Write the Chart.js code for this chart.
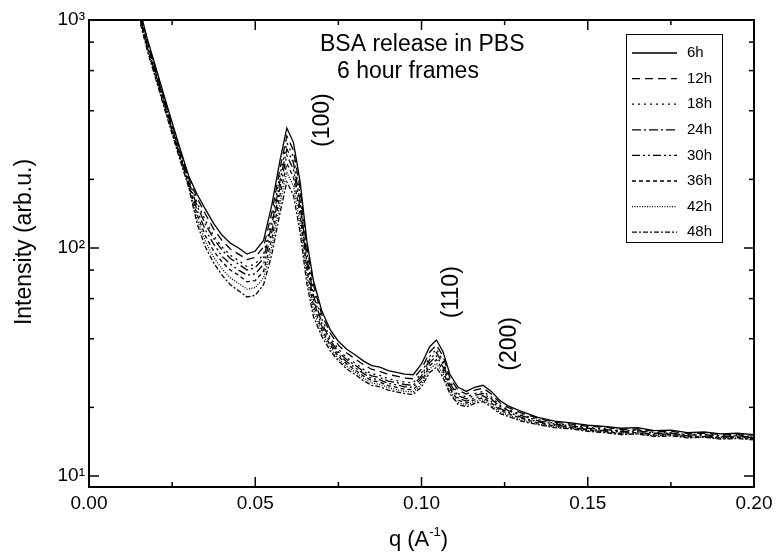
<!DOCTYPE html>
<html lang="en">
<head>
<meta charset="UTF-8">
<title>BSA release in PBS</title>
<script src="https://cdn.jsdelivr.net/npm/chart.js"></script>
<style>
  html, body { margin: 0; padding: 0; background: #fff; }
  #wrap { width: 781px; height: 552px; }
</style>
</head>
<body>
<div id="wrap"><canvas id="saxs" width="781" height="552"></canvas></div>
<script>
// scattering vector q (A^-1), shared by all frames
const q = [0.0155, 0.0175, 0.02, 0.0225, 0.025, 0.0275, 0.03, 0.0325, 0.035, 0.0375,
  0.04, 0.0425, 0.045, 0.0475, 0.05, 0.0525, 0.055, 0.0575, 0.0595, 0.0615,
  0.0635, 0.0655, 0.0675, 0.07, 0.0725, 0.075, 0.0775, 0.08, 0.0825, 0.085,
  0.0875, 0.09, 0.0925, 0.095, 0.0975, 0.1, 0.1025, 0.1045, 0.1065, 0.1085,
  0.111, 0.1135, 0.116, 0.1185, 0.121, 0.1235, 0.126, 0.13, 0.135, 0.14,
  0.145, 0.15, 0.155, 0.16, 0.165, 0.17, 0.175, 0.18, 0.185, 0.19, 0.195, 0.2];

// intensity (arb.u.) per 6 hour frame
const i6h = [1080, 830, 625, 470, 355, 270, 207, 172, 148, 128, 114, 105, 100, 94, 97, 108, 155, 245, 336, 290,
  195, 108, 72, 53, 44, 39, 36, 34, 32, 30.5, 30, 29, 28.5, 28, 27.8, 31, 37, 39.5, 35, 28,
  24.5, 23.5, 24.5, 25, 23.5, 21.5, 20.3, 19.2, 18.1, 17.4, 17.1, 16.7, 16.5, 16.2, 16.3, 15.8, 15.9, 15.5, 15.6, 15.3, 15.4, 15.2];
const i12h = [1060, 815, 612, 460, 348, 264, 202, 166, 141, 121, 108, 99, 94, 89, 91, 101, 143, 225, 310, 268,
  182, 102, 69, 51, 42.5, 37.5, 34.6, 32.7, 30.8, 29.4, 28.8, 27.9, 27.4, 26.9, 26.7, 29.5, 35, 37.5, 33.5, 27,
  23.8, 22.9, 23.8, 24.3, 22.9, 21, 20, 18.9, 17.9, 17.2, 16.9, 16.5, 16.4, 16, 16.1, 15.7, 15.7, 15.4, 15.4, 15.2, 15.2, 15.1];
const i18h = [1040, 797, 600, 451, 340, 258, 197, 158, 132, 113, 101, 93, 88, 83, 85, 94, 133, 211, 290, 250,
  170, 96, 65, 49, 40.5, 36, 33, 31.3, 29.4, 28.1, 27.6, 26.7, 26.2, 25.8, 25.6, 28.3, 33.5, 36, 32, 26,
  23, 22.2, 23, 23.5, 22.2, 20.5, 19.6, 18.6, 17.7, 17, 16.7, 16.3, 16.2, 15.8, 15.9, 15.5, 15.5, 15.2, 15.3, 15, 15.1, 14.9];
const i24h = [1025, 788, 594, 446, 336, 255, 195, 153, 127, 110, 98, 90, 85, 80, 82, 90, 126, 199, 272, 236,
  160, 91, 62, 47, 39.5, 35, 32.4, 30.6, 28.8, 27.5, 27, 26.1, 25.7, 25.2, 25, 27.5, 32.5, 34.8, 31, 25.5,
  22.5, 21.8, 22.6, 23, 21.8, 20.2, 19.4, 18.4, 17.5, 16.9, 16.6, 16.2, 16, 15.7, 15.8, 15.4, 15.4, 15.1, 15.2, 14.9, 15, 14.8];
const i30h = [1005, 772, 581, 437, 330, 251, 192, 146, 120, 104, 92, 85, 80, 76, 77, 85, 118, 186, 255, 221,
  150, 86, 59, 45.5, 38.5, 34.2, 31.7, 29.9, 28.2, 26.8, 26.4, 25.5, 25.1, 24.6, 24.5, 26.8, 31.5, 33.6, 30, 24.8,
  22, 21.3, 22, 22.5, 21.3, 19.8, 19.1, 18.1, 17.3, 16.7, 16.4, 16, 15.8, 15.6, 15.6, 15.2, 15.3, 15, 15, 14.8, 14.9, 14.7];
const i36h = [995, 764, 575, 432, 327, 248, 190, 140, 113, 97, 87, 80, 76, 71, 72, 79, 110, 172, 235, 204,
  140, 81, 56, 44, 37.5, 33.5, 31, 29.2, 27.5, 26.2, 25.8, 24.9, 24.5, 24, 23.9, 26, 30.5, 32.4, 29, 24.2,
  21.5, 20.9, 21.6, 22, 20.9, 19.5, 18.8, 17.9, 17.1, 16.6, 16.3, 15.9, 15.7, 15.4, 15.5, 15.1, 15.2, 14.9, 14.9, 14.7, 14.8, 14.6];
const i42h = [975, 747, 562, 423, 320, 243, 186, 134, 107, 91, 81, 74, 70, 66, 67, 74, 102, 158, 215, 187,
  128, 75, 53, 42.5, 36.5, 32.7, 30.2, 28.6, 26.9, 25.6, 25.2, 24.4, 23.9, 23.5, 23.4, 25.3, 29.5, 31.2, 28, 23.6,
  21, 20.5, 21.2, 21.6, 20.5, 19.1, 18.5, 17.6, 16.9, 16.4, 16.2, 15.8, 15.6, 15.3, 15.3, 15, 15.1, 14.8, 14.8, 14.6, 14.7, 14.5];
const i48h = [960, 739, 556, 418, 316, 240, 184, 128, 101, 86, 76, 69, 65, 61, 62, 69, 94, 144, 195, 170,
  117, 70, 50, 41, 35.5, 32, 29.5, 27.9, 26.2, 25, 24.6, 23.8, 23.4, 23, 22.8, 24.6, 28.5, 30, 27, 23,
  20.6, 20.1, 20.8, 21.2, 20.1, 18.8, 18.3, 17.4, 16.8, 16.3, 16.1, 15.7, 15.5, 15.2, 15.3, 14.9, 15, 14.7, 14.8, 14.5, 14.6, 14.4];

const frameLabels = ['6h', '12h', '18h', '24h', '30h', '36h', '42h', '48h'];
const frameValues = [i6h, i12h, i18h, i24h, i30h, i36h, i42h, i48h];

const xMajorTicks = [0, 0.05, 0.1, 0.15, 0.2];
const xMinorTicks = [0.025, 0.075, 0.125, 0.175];
const yMajorTicks = [10, 100, 1000];
const yMinorTicks = [20, 40, 60, 80, 200, 400, 600, 800];

// Miller index labels at (q, intensity)
const peakLabels = ['(100)', '(110)', '(200)'];
const peakQ = [0.0704, 0.1092, 0.1266];
const peakI = [364, 64, 38];

const FONT = '"Liberation Sans", Arial, Helvetica, sans-serif';
const dashes = [[], [8, 5], [2, 4], [9, 3, 2, 3], [8, 3, 2, 3, 2, 3], [4, 3], [1, 1.5], [5, 2, 2, 2]];

const framePlugin = {
    id: 'frame',
    afterDraw(chart) {
        const { ctx, chartArea: a, scales: { x, y } } = chart;
        ctx.save();
        ctx.strokeStyle = '#000';
        ctx.fillStyle = '#000';
        ctx.lineWidth = 1.5;
        const tick = (px, py, dx, dy) => {
            ctx.beginPath(); ctx.moveTo(px, py); ctx.lineTo(px + dx, py + dy); ctx.stroke();
        };
        xMajorTicks.forEach(v => { const px = x.getPixelForValue(v); tick(px, a.bottom, 0, -10); tick(px, a.top, 0, 10); });
        xMinorTicks.forEach(v => { const px = x.getPixelForValue(v); tick(px, a.bottom, 0, -5); tick(px, a.top, 0, 5); });
        yMajorTicks.forEach(v => { const py = y.getPixelForValue(v); tick(a.left, py, 10, 0); tick(a.right, py, -10, 0); });
        yMinorTicks.forEach(v => { const py = y.getPixelForValue(v); tick(a.left, py, 5, 0); tick(a.right, py, -5, 0); });
        ctx.lineWidth = 2;
        ctx.strokeRect(a.left, a.top, a.right - a.left, a.bottom - a.top);

        // axis titles
        ctx.textBaseline = 'alphabetic';
        ctx.textAlign = 'left';
        const p1 = 'q (A', p3 = ')';
        ctx.font = '13px ' + FONT;
        const w2 = ctx.measureText('-1').width;
        ctx.font = '22px ' + FONT;
        const w1 = ctx.measureText(p1).width, w3 = ctx.measureText(p3).width;
        let tx = (a.left + a.right) / 2 - 3 - (w1 + w2 + w3) / 2;
        ctx.fillText(p1, tx, 546);
        ctx.font = '13px ' + FONT;
        ctx.fillText('-1', tx + w1, 536);
        ctx.font = '22px ' + FONT;
        ctx.fillText(p3, tx + w1 + w2, 546);

        ctx.save();
        ctx.translate(25, 242);
        ctx.rotate(-Math.PI / 2);
        ctx.textAlign = 'center';
        ctx.textBaseline = 'middle';
        ctx.font = '23px ' + FONT;
        ctx.fillText('Intensity (arb.u.)', 0, 0);
        ctx.restore();

        // annotations
        ctx.font = '23px ' + FONT;
        ctx.textAlign = 'left';
        ctx.textBaseline = 'middle';
        ctx.fillText('BSA release in PBS', 320, 45);
        ctx.fillText('6 hour frames', 337, 72);
        peakLabels.forEach((t, k) => {
            ctx.save();
            ctx.translate(x.getPixelForValue(peakQ[k]), y.getPixelForValue(peakI[k]));
            ctx.rotate(-Math.PI / 2);
            ctx.textAlign = 'center';
            ctx.fillText(t, 0, 0);
            ctx.restore();
        });

        // legend box
        ctx.lineWidth = 1;
        ctx.strokeRect(626.5, 34.5, 96, 208);
        ctx.font = '15px ' + FONT;
        chart.data.datasets.forEach((ds, k) => {
            const ly = 53 + 25.6 * k;
            ctx.save();
            ctx.lineWidth = ds.borderWidth;
            ctx.setLineDash(ds.borderDash);
            ctx.beginPath(); ctx.moveTo(632, ly); ctx.lineTo(677, ly); ctx.stroke();
            ctx.restore();
            ctx.fillText(ds.label, 687, ly);
        });
        ctx.restore();
    }
};

const ctx = document.getElementById('saxs').getContext('2d');
new Chart(ctx, {
    type: 'line',
    data: {
        datasets: frameLabels.map((lab, k) => ({
            label: lab,
            data: q.map((v, j) => ({ x: v, y: frameValues[k][j] })),
            borderColor: '#000',
            borderWidth: 1.3,
            borderDash: dashes[k],
            pointRadius: 0,
            tension: 0,
            fill: false
        }))
    },
    options: {
        responsive: false,
        animation: false,
        layout: { padding: { top: 20, right: 27, left: 0, bottom: 0 } },
        plugins: { legend: { display: false }, tooltip: { enabled: false } },
        scales: {
            x: {
                type: 'linear', min: 0, max: 0.2,
                grid: { display: false, drawTicks: false },
                border: { display: false },
                ticks: { stepSize: 0.05, padding: 5, maxRotation: 0, color: '#000',
                    font: { family: FONT, size: 19 }, callback: v => v.toFixed(2) },
                afterFit: s => { s.height = 65; }
            },
            y: {
                type: 'logarithmic', min: 8.95, max: 1000,
                grid: { display: false, drawTicks: false },
                border: { display: false },
                ticks: { autoSkip: false, padding: 4, color: '#000',
                    font: { family: FONT, size: 19 },
                    callback: v => ({ 10: '10¹', 100: '10²', 1000: '10³' })[v] || '' },
                afterFit: s => { s.width = 89; }
            }
        }
    },
    plugins: [framePlugin]
});
</script>
</body>
</html>
